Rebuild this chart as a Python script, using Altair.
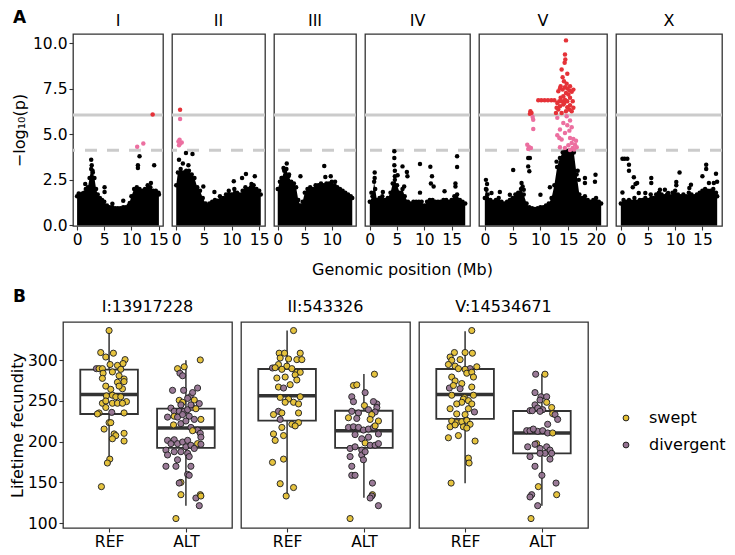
import altair as alt
import pandas as pd

FONT = "DejaVu Sans"

CHROMS = ["I", "II", "III", "IV", "V", "X"]
CHROM_LEN_MB = [15.07, 15.28, 13.78, 17.49, 20.92, 17.72]
BONFERRONI = 6.06
EIGEN = 4.12
Y_TICKS_A = [0, 2.5, 5, 7.5, 10]
X_TITLE_A = "Genomic position (Mb)"

ENV_I = [(0.0,1.6),(0.3,1.75),(0.7,1.7),(1.0,1.75),(1.3,1.8),(1.6,2.0),(2.0,2.1),(2.3,2.6),(2.6,3.1),(2.9,2.9),(3.2,2.6),(3.5,2.0),(3.8,1.7),(4.2,1.5),(4.6,1.4),(5.0,1.3),(5.5,1.1),(6.0,1.0),(6.5,1.0),(7.0,0.95),(7.5,0.95),(8.0,0.95),(8.5,1.0),(9.0,1.0),(9.5,1.1),(10.0,1.6),(10.5,2.0),(11.0,2.1),(11.5,2.0),(12.0,1.9),(12.5,2.0),(13.0,2.2),(13.5,2.1),(14.0,1.9),(14.5,1.9),(15.0,1.8),(15.07,1.7)]
ENV_II = [(0.0,2.2),(0.3,2.9),(0.8,3.1),(1.3,2.9),(1.8,3.0),(2.3,3.0),(2.8,2.8),(3.3,2.6),(3.8,2.1),(4.3,1.9),(4.8,1.5),(5.3,1.2),(6.0,1.2),(6.5,1.3),(7.0,1.4),(7.5,1.35),(8.0,1.4),(8.5,1.5),(9.0,1.7),(9.5,1.9),(10.0,1.7),(10.5,2.0),(11.0,1.8),(11.5,1.7),(12.0,1.9),(12.5,2.1),(13.0,2.0),(13.5,2.1),(14.0,2.2),(14.5,2.0),(15.0,1.9),(15.28,1.7)]
ENV_III = [(0.0,2.0),(0.4,2.4),(0.8,2.6),(1.2,3.0),(1.6,3.1),(2.0,2.7),(2.5,2.4),(3.0,2.3),(3.4,2.1),(3.8,1.4),(4.2,1.1),(4.6,1.3),(5.0,1.8),(5.5,2.0),(6.0,2.1),(6.5,2.0),(7.0,2.2),(7.5,2.2),(8.0,2.3),(8.5,2.2),(9.0,2.3),(9.5,2.3),(10.0,2.4),(10.5,2.2),(11.0,2.1),(11.5,2.0),(12.0,1.9),(12.5,1.8),(13.0,1.7),(13.5,1.6),(13.78,1.5)]
ENV_IV = [(0.0,1.3),(0.5,1.6),(0.8,2.4),(1.0,2.0),(1.3,1.4),(1.8,1.5),(2.3,1.6),(2.8,1.4),(3.3,1.5),(3.8,1.8),(4.2,2.3),(4.6,2.5),(5.0,2.2),(5.5,1.8),(6.0,2.0),(6.4,1.6),(7.0,1.3),(7.5,1.2),(8.0,1.3),(8.5,1.3),(9.0,1.3),(9.5,1.3),(10.0,1.1),(10.5,1.3),(11.0,1.4),(11.5,1.4),(12.0,1.3),(12.5,1.3),(13.0,1.3),(13.5,1.4),(14.0,1.4),(14.5,1.3),(15.0,1.4),(15.5,1.6),(16.0,1.7),(16.5,1.4),(17.0,1.3),(17.49,1.2)]
ENV_V = [(0.0,1.5),(0.2,2.0),(0.5,1.7),(1.0,1.4),(1.5,1.3),(2.0,1.4),(2.5,1.5),(3.0,1.3),(3.5,1.2),(4.0,1.3),(4.5,1.4),(5.0,1.5),(5.5,1.7),(6.0,1.8),(6.5,2.0),(7.0,1.7),(7.5,1.2),(8.0,1.0),(8.5,0.95),(9.0,0.9),(9.5,0.95),(10.0,1.0),(10.5,1.0),(11.0,1.1),(11.5,1.2),(12.0,1.5),(12.5,2.2),(13.0,3.2),(13.5,3.7),(14.0,4.0),(14.5,4.1),(15.0,4.1),(15.5,4.1),(16.0,4.0),(16.5,2.8),(17.0,1.7),(17.5,1.5),(18.0,1.6),(18.5,1.4),(19.0,1.3),(19.5,1.4),(20.0,1.5),(20.5,1.3),(20.92,1.2)]
ENV_X = [(0.0,1.2),(0.5,1.4),(1.0,1.3),(1.5,1.4),(2.0,1.3),(2.5,1.5),(3.0,1.3),(3.5,1.4),(4.0,1.4),(4.5,1.5),(5.0,1.4),(5.5,1.7),(6.0,1.5),(6.5,1.7),(7.0,1.8),(7.5,1.7),(8.0,1.6),(8.5,1.7),(9.0,1.6),(9.5,1.8),(10.0,1.9),(10.5,1.7),(11.0,1.6),(11.5,1.7),(12.0,1.6),(12.5,1.8),(13.0,1.7),(13.5,1.6),(14.0,1.7),(14.5,1.8),(15.0,1.9),(15.5,2.0),(16.0,1.9),(16.5,1.9),(17.0,2.0),(17.5,1.8),(17.72,1.6)]

PTS_I = [(1.5,2.27),(2.6,3.6),(2.7,3.3),(2.85,3.0),(5.06,2.09),(5.06,1.83),(6.5,1.19),(8.5,1.36),(9.7,1.23),(11.2,3.15),(11.2,3.3),(11.5,3.79),(13.6,2.33),(14.2,3.3)]
PTS_II = [(0.5,3.6),(1.76,3.97),(2.94,3.92),(1.2,3.4),(2.2,3.3),(4.9,2.14),(6.9,1.83),(7.9,1.6),(10.4,2.42),(11.9,2.6),(12.6,2.82),(13.6,2.27),(14.2,2.7)]
PTS_III = [(1.07,3.15),(1.67,3.4),(0.7,2.6),(2.1,2.8),(4.2,2.7),(8.6,3.26),(8.8,2.66),(9.8,2.7),(10.6,2.4)]
PTS_IV = [(0.9,2.9),(0.9,2.6),(0.3,1.8),(2.4,1.83),(4.5,4.07),(4.5,3.7),(4.5,3.3),(4.6,3.0),(4.6,2.7),(5.1,2.75),(6.0,3.24),(6.8,2.93),(6.9,2.7),(6.3,2.14),(9.2,3.37),(9.2,1.8),(11.1,3.22),(11.4,2.7),(11.2,2.3),(11.7,2.14),(13.7,1.87),(16.0,3.79),(16.0,3.2),(15.7,2.3),(15.7,2.14)]
PTS_V = [(0.2,2.5),(0.4,2.27),(0.3,1.96),(1.2,1.78),(2.7,1.83),(4.5,1.68),(5.1,3.04),(6.6,2.33),(6.8,2.14),(7.0,1.96),(7.8,3.7),(8.1,3.7),(7.8,3.24),(8.0,2.97),(10.0,1.68),(11.7,2.09),(12.9,3.5),(18.0,2.6),(18.0,2.33),(19.9,2.78),(19.8,2.4),(16.7,3.0),(16.9,2.5)]
PTS_X = [(0.3,3.66),(0.7,3.66),(1.2,3.66),(1.5,3.33),(1.5,3.0),(2.4,2.64),(2.7,2.27),(3.0,2.33),(2.2,2.1),(0.3,1.81),(3.3,1.78),(4.5,1.78),(5.6,2.6),(5.6,2.33),(7.2,1.96),(8.1,1.96),(8.7,1.78),(10.2,2.38),(10.2,2.2),(10.8,2.91),(12.9,2.23),(12.6,2.05),(15.0,2.7),(15.7,3.33),(15.7,3.1),(16.2,2.33),(17.5,2.84),(17.7,2.4),(17.1,2.33)]

SIG_I = [(11.07,4.32),(12.2,4.49),(13.92,6.08)]
SIG_II = [(0.7,6.34),(0.7,5.84),(0.4,4.6),(0.5,4.4),(0.7,4.5),(1.0,4.55),(0.6,4.7)]
SIG_III = []
SIG_IV = []
SIG_V = [(14.59,10.15),(14.41,9.38),(14.47,9.10),(14.35,8.92),(13.81,8.55),(14.83,8.32),(13.99,8.13),(14.23,7.91),(14.71,7.77),(15.32,7.64),(13.63,7.64),
         (13.21,7.36),(13.51,7.51),(13.99,7.45),(14.41,7.58),(14.83,7.51),(15.20,7.40),(15.62,7.33),(15.92,7.45),(14.59,7.27),(15.02,7.18),(14.11,7.09),
         (13.63,7.0),(13.39,6.81),(13.81,6.81),(14.41,6.90),(15.32,7.0),(15.80,6.81),(13.03,6.72),(13.51,6.54),(14.11,6.63),(14.83,6.48),(15.32,6.59),
         (15.92,6.45),(13.21,6.36),(14.59,6.26),(15.20,6.36),(15.62,6.26),(13.81,6.17),(14.29,6.72),(14.83,6.81),(12.91,6.45),(12.79,6.17),
         (9.61,6.87),(10.15,6.87),(10.75,6.87),(11.35,6.87),(11.95,6.87),(12.5,6.87),
         (8.2,6.26),(8.4,6.17),(8.1,6.12),(8.6,5.95),(8.7,5.8),
         (8.71,5.29),(7.63,4.43),(7.99,4.29),(7.81,4.19),(8.29,4.25),
         (13.03,5.90),(14.71,5.99),(15.32,5.75),(14.11,5.62),(14.83,5.49),(15.62,5.38),(13.51,5.26),(15.20,5.20),(14.41,5.07),(13.03,4.95),
         (13.39,4.80),(13.81,4.71),(15.32,4.80),(15.92,4.74),(16.40,4.65),(15.62,4.52),(16.22,4.43),(15.02,4.40),(16.52,4.29),(13.51,4.29),
         (15.80,4.25),(14.41,4.25),(16.04,4.16),(15.32,4.14)]
SIG_X = []

ENV = dict(zip(CHROMS, [ENV_I, ENV_II, ENV_III, ENV_IV, ENV_V, ENV_X]))
PTS = dict(zip(CHROMS, [PTS_I, PTS_II, PTS_III, PTS_IV, PTS_V, PTS_X]))
SIG = dict(zip(CHROMS, [SIG_I, SIG_II, SIG_III, SIG_IV, SIG_V, SIG_X]))

MARKERS = ["I:13917228", "II:543326", "V:14534671"]
ALLELES = ["REF", "ALT"]
GROUPS = ["swept", "divergent"]
GROUP_CODE = {"s": "swept", "d": "divergent"}
PANEL_TAGS = ["A", "B"]

Q1 = [[234.0, 192.5], [225.8, 192.5], [228.0, 185.7]]
MEDIAN = [[258.0, 216.7], [256.3, 213.5], [258.0, 210.7]]
Q3 = [[288.5, 240.5], [289.3, 238.0], [289.3, 237.7]]
WHISK_LO = [[172.0, 121.4], [134.0, 131.0], [149.0, 121.4]]
WHISK_HI = [[336.5, 300.0], [336.5, 283.0], [335.7, 283.0]]

M1_REF = [(0,336.5,"s"),(-0.109,309.5,"s"),(0.056,308.7,"s"),(-0.043,304,"s"),(-0.165,289.7,"d"),(-0.13,289.7,"s"),(-0.087,289.7,"s"),(0.013,294.8,"s"),(0.109,293.7,"s"),(0.152,288.9,"s"),(0.208,300.8,"s"),(0.182,296,"s"),(-0.078,284.1,"s"),(-0.087,277.8,"s"),(0.043,285.7,"s"),(0.13,281,"s"),(0.109,273,"s"),(0.195,277,"s"),(0.195,273.8,"s"),(0.174,265,"s"),(-0.043,268.3,"s"),(0.022,264.3,"s"),(0.13,268.3,"s"),(0.043,257.1,"s"),(-0.035,256.3,"s"),(0.087,255.2,"s"),(0.152,255.2,"s"),(0.226,249.2,"s"),(-0.13,235.3,"s"),(-0.087,247.2,"s"),(-0.043,250,"s"),(0.043,247.2,"s"),(0.109,247.2,"s"),(0.174,247.2,"s"),(0.195,235.3,"s"),(0.035,236,"d"),(-0.043,242,"s"),(-0.152,234.1,"s"),(0,223.4,"s"),(0.022,223.4,"s"),(-0.065,215.5,"s"),(0.065,209.5,"s"),(0.087,207.5,"s"),(0.195,210.3,"s"),(0.195,200.8,"s"),(0.043,203.6,"s"),(0.009,178.6,"s"),(-0.022,173.8,"s"),(-0.1,144.8,"s")]
M1_ALT = [(0.187,300.4,"s"),(-0.109,289.7,"s"),(-0.022,292,"s"),(-0.078,284.1,"d"),(-0.043,281,"d"),(-0.174,263.1,"d"),(-0.030,263.1,"d"),(0.152,265.9,"d"),(0.056,255.2,"d"),(0.022,253.2,"d"),(0.087,260.3,"d"),(-0.087,250.8,"s"),(-0.043,248.4,"s"),(-0.065,245.2,"d"),(0.109,251.2,"s"),(-0.195,241.3,"d"),(-0.152,237.3,"d"),(-0.087,237.3,"d"),(-0.022,237.3,"d"),(0.022,239.3,"d"),(0.087,242,"d"),(0.174,246.8,"d"),(0.065,245.2,"d"),(0.13,240.5,"s"),(-0.152,231.3,"s"),(-0.239,230.2,"d"),(-0.109,230.2,"d"),(-0.043,233.3,"d"),(0.043,231.3,"d"),(0.109,227.4,"d"),(0.195,227.4,"s"),(-0.161,220.6,"s"),(-0.065,222.2,"d"),(0,225.4,"d"),(0.065,217.5,"d"),(0.152,214.3,"d"),(0.087,213.5,"s"),(0.187,210.3,"d"),(0.195,205.6,"d"),(0.152,197.6,"s"),(0.195,196.8,"d"),(-0.239,201.6,"d"),(-0.152,202.4,"d"),(-0.195,197.6,"d"),(-0.109,197.6,"d"),(-0.043,199.6,"d"),(0.022,201.6,"d"),(0,193.7,"d"),(0.065,195.6,"d"),(0.109,191.7,"d"),(-0.260,189.7,"d"),(-0.152,187.7,"d"),(-0.065,187.7,"d"),(0.022,185.7,"d"),(0.043,181.7,"d"),(-0.109,177.8,"d"),(-0.239,183.7,"d"),(-0.130,169.8,"d"),(-0.260,169.8,"d"),(0.065,169.8,"d"),(0.022,159.9,"d"),(0.043,158.7,"d"),(-0.065,150,"s"),(-0.087,149.2,"d"),(-0.065,134.9,"s"),(0.13,130.8,"d"),(0.187,134.9,"s"),(0.195,133.3,"s"),(0.174,121.4,"d"),(-0.130,105.6,"s")]
M2_REF = [(0.084,336.5,"s"),(-0.103,308.7,"s"),(-0.033,308.7,"s"),(0.171,308.7,"s"),(-0.09,302.8,"s"),(0.019,301.6,"s"),(0.127,300.8,"s"),(0.192,300.8,"s"),(-0.112,294.8,"s"),(-0.003,292.8,"s"),(-0.19,290.5,"d"),(-0.155,290.9,"s"),(-0.068,288.9,"s"),(0.062,289.7,"s"),(0.127,285.3,"s"),(0.171,285.3,"s"),(-0.133,278.2,"s"),(-0.025,279.4,"s"),(0.105,282.1,"s"),(0.127,275.8,"s"),(-0.112,267.1,"s"),(-0.046,265.9,"d"),(0.040,270,"s"),(-0.09,254.4,"s"),(0.019,252.4,"s"),(0.084,248.4,"s"),(0.149,246.4,"s"),(0.171,255.2,"s"),(-0.025,248.4,"s"),(-0.112,237.3,"d"),(-0.177,233.3,"s"),(-0.068,235.3,"s"),(0.149,235.3,"s"),(-0.09,227.4,"d"),(0.062,221.4,"s"),(0.149,223.4,"s"),(0.105,219.4,"s"),(-0.068,217.5,"s"),(-0.177,209.5,"s"),(-0.046,207.5,"s"),(-0.155,201.6,"s"),(-0.046,178.6,"s"),(-0.19,174.6,"s"),(-0.09,148.4,"s"),(0.084,143.7,"s"),(-0.012,133.3,"s")]
M2_ALT = [(0.137,282.9,"s"),(-0.136,269,"s"),(-0.093,269.8,"s"),(-0.158,255.2,"d"),(0.016,260.3,"d"),(-0.136,249.2,"d"),(0.168,246.4,"d"),(0.124,249.2,"d"),(0.007,244.4,"s"),(-0.158,237.3,"d"),(-0.071,235.3,"d"),(0.059,239.3,"d"),(0.168,242,"d"),(0.146,236.5,"d"),(0.102,233.3,"s"),(-0.093,228.6,"d"),(-0.201,229.4,"s"),(0.081,227.4,"s"),(0.189,225.4,"s"),(-0.201,217.5,"d"),(-0.136,218.3,"d"),(-0.071,217.5,"d"),(-0.006,214.3,"d"),(0.059,215.5,"d"),(0.124,217.5,"d"),(0.146,219.4,"s"),(0.189,209.5,"d"),(-0.115,208.7,"d"),(-0.028,203.6,"d"),(0.059,205.6,"d"),(0.016,198.4,"s"),(0.081,195.6,"d"),(0.146,195.6,"d"),(0.189,197.6,"d"),(-0.18,191.7,"d"),(-0.115,193.7,"d"),(-0.028,189.7,"d"),(-0.028,183.7,"d"),(0.016,187.7,"d"),(-0.18,181.7,"d"),(-0.006,177.8,"d"),(-0.158,169.8,"d"),(-0.158,158.7,"d"),(-0.115,158.7,"d"),(0.111,149.2,"d"),(0.111,134.9,"s"),(0.102,133.3,"d"),(0.081,130.8,"d"),(0.189,121.4,"d"),(-0.18,105.6,"s")]
M3_REF = [(0.087,336.5,"s"),(-0.139,309.5,"s"),(0,309.5,"s"),(0.095,308.7,"s"),(-0.195,304,"s"),(-0.065,300.8,"s"),(-0.174,300,"s"),(-0.217,294.8,"s"),(-0.13,292.8,"s"),(0.152,292,"s"),(0.065,289.7,"d"),(0,288.9,"s"),(-0.087,289.7,"s"),(0.022,284.1,"s"),(0.087,285.3,"s"),(0.109,279.4,"s"),(-0.174,279.4,"s"),(-0.13,274.6,"s"),(-0.043,271.4,"s"),(-0.204,265.9,"d"),(-0.065,265.1,"d"),(0.087,267.1,"s"),(-0.152,269,"s"),(-0.174,257.1,"s"),(-0.009,254.4,"s"),(0.109,257.1,"s"),(-0.022,252.4,"s"),(0.043,250.4,"s"),(-0.043,248.4,"s"),(-0.109,246.4,"s"),(0.087,246.4,"s"),(-0.195,240.5,"s"),(0.043,240.5,"s"),(0.122,236.5,"d"),(-0.109,234.1,"s"),(0,233.3,"s"),(-0.174,225.4,"s"),(-0.109,223.4,"s"),(-0.043,224.6,"s"),(0.022,226.2,"s"),(0.065,221.4,"s"),(-0.195,218.3,"s"),(-0.13,220.6,"s"),(-0.022,218.3,"s"),(0.022,216.7,"s"),(-0.217,204.8,"s"),(-0.087,207.5,"s"),(0.13,200.8,"s"),(0.043,179.8,"s"),(0.052,173.8,"s"),(-0.182,149.2,"s")]
M3_ALT = [(-0.081,282.9,"d"),(0.04,282.9,"s"),(-0.09,260.3,"d"),(-0.012,255.2,"d"),(0.062,255.2,"d"),(-0.025,251.2,"d"),(0.062,248.4,"s"),(-0.09,245.2,"d"),(-0.155,238.1,"d"),(-0.125,238.1,"d"),(-0.055,241.3,"d"),(0.01,239.3,"d"),(0.127,242,"s"),(0.14,234.5,"s"),(0.171,233.3,"d"),(0.205,227.4,"d"),(0.075,221.4,"d"),(-0.025,237.3,"d"),(-0.198,213.5,"d"),(-0.155,213.5,"d"),(-0.055,212.7,"d"),(0.01,213.5,"d"),(-0.112,215.5,"d"),(0.075,210.7,"d"),(0.14,210.7,"s"),(-0.068,197.6,"s"),(-0.185,193.7,"d"),(-0.09,196.8,"d"),(-0.025,191.7,"d"),(0.062,193.7,"d"),(0.105,189.7,"d"),(0.04,185.7,"d"),(0.127,185.7,"d"),(-0.155,181.7,"d"),(-0.025,185.7,"d"),(0.105,178.6,"d"),(-0.09,169.8,"d"),(0,158.7,"d"),(0.184,149.2,"d"),(-0.046,144.8,"s"),(-0.133,134.9,"d"),(-0.155,132.1,"d"),(0.192,134.9,"s"),(-0.055,121.4,"d"),(-0.142,105.6,"s")]
STRAINS = [(M1_REF, M1_ALT), (M2_REF, M2_ALT), (M3_REF, M3_ALT)]
Y_TICKS_B = [100, 150, 200, 250, 300]

BLACK = "#000000"
PINK = "#EC6FA0"
RED = "#E53238"
LINE_GREY = "#CBCBCB"
FRAME = "#333333"
GOLD = "#E5C034"
MAUVE = "#957392"
TOP_W = [90, 93, 82, 105, 128, 106]
TOP_H = 192
BOT_W = 169
BOT_H = 206
GAP = 9
BOX_HALF = 0.375


def label(text, x, y, size=16, weight="normal", baseline="alphabetic", align="center"):
    return alt.Chart(pd.DataFrame({"t": [text]})).mark_text(
        font=FONT, fontSize=size, fontWeight=weight, baseline=baseline, align=align, color="black"
    ).encode(text="t:N", x=alt.value(x), y=alt.value(y))


def manhattan(i):
    name = CHROMS[i]
    L = CHROM_LEN_MB[i]
    env = pd.DataFrame(ENV[name], columns=["pos", "val"])
    pts = pd.DataFrame(PTS[name], columns=["pos", "val"])
    sig = pd.DataFrame(SIG[name], columns=["pos", "val"])
    ticks = [t for t in (0, 5, 10, 15, 20) if t <= L]
    x = alt.X("pos:Q", scale=alt.Scale(domain=[-0.05 * L, 1.05 * L], nice=False, zero=False),
              axis=alt.Axis(values=ticks, format="d", title=None))
    yscale = alt.Scale(domain=[-0.03, 10.5], nice=False, zero=False)
    if i == 0:
        y = alt.Y("val:Q", scale=yscale,
                  axis=alt.Axis(values=Y_TICKS_A, format=".1f", title="\u2212log\u2081\u2080(p)", titlePadding=5))
    else:
        y = alt.Y("val:Q", scale=yscale, axis=None)

    solid = alt.Chart(pd.DataFrame({"val": [BONFERRONI]})).mark_rule(
        color=LINE_GREY, strokeWidth=3).encode(y=y)
    dashed = alt.Chart(pd.DataFrame({"val": [EIGEN]})).mark_rule(
        color=LINE_GREY, strokeWidth=3, strokeDash=[12, 10]).encode(y=y)
    area = alt.Chart(env).mark_area(color=BLACK, clip=True).encode(x=x, y=y, y2=alt.datum(0))
    edge = alt.Chart(env).mark_circle(color=BLACK, size=20, opacity=1, clip=True).encode(x=x, y=y)
    lone = alt.Chart(pts).mark_circle(color=BLACK, size=20, opacity=1, clip=True).encode(x=x, y=y)
    layers = [solid, dashed, area, edge, lone]
    if len(sig):
        layers.append(
            alt.Chart(sig).mark_circle(size=20, opacity=1, clip=True).encode(
                x=x, y=y,
                color=alt.condition(alt.datum.val >= BONFERRONI, alt.value(RED), alt.value(PINK))))
    layers.append(label(name, TOP_W[i] / 2, -8))
    if i == 0:
        layers.append(label(PANEL_TAGS[0], -60, -24, size=17, weight="bold", baseline="top", align="left"))
    if name == "IV":
        # centre of the whole strip of panels, measured from this panel's left edge
        strip_w = sum(TOP_W) + GAP * (len(TOP_W) - 1)
        left_of_iv = sum(TOP_W[:3]) + GAP * 3
        layers.append(label(X_TITLE_A, strip_w / 2 - left_of_iv + 5, TOP_H + 49))
    return alt.layer(*layers).properties(width=TOP_W[i], height=TOP_H)


def boxpanel(k):
    box = pd.DataFrame({
        "allele": ALLELES, "xpos": [1, 2],
        "q1": Q1[k], "med": MEDIAN[k], "q3": Q3[k], "lo": WHISK_LO[k], "hi": WHISK_HI[k]})
    rows = []
    for a_i, lst in enumerate(STRAINS[k]):
        for dx, v, g in lst:
            rows.append({"xpos": a_i + 1 + dx, "val": v, "group": GROUP_CODE[g]})
    pts = pd.DataFrame(rows)

    xscale = alt.Scale(domain=[0.4, 2.6], nice=False, zero=False)
    label_expr = "datum.value == 1 ? '%s' : (datum.value == 2 ? '%s' : '')" % (ALLELES[0], ALLELES[1])
    xaxis = alt.Axis(values=[1, 2], labelExpr=label_expr, title=None)
    yscale = alt.Scale(domain=[94, 347], nice=False, zero=False)
    if k == 0:
        yaxis = alt.Axis(values=Y_TICKS_B, title="Lifetime fecundity", titlePadding=2)
    else:
        yaxis = None

    def X(f):
        return alt.X(f + ":Q", scale=xscale, axis=xaxis)

    def Y(f):
        return alt.Y(f + ":Q", scale=yscale, axis=yaxis)

    whisk = alt.Chart(box).mark_rule(color=FRAME, strokeWidth=1.5).encode(x=X("xpos"), y=Y("lo"), y2="hi:Q")
    rect = alt.Chart(box).transform_calculate(
        x1="datum.xpos - %f" % BOX_HALF, x2="datum.xpos + %f" % BOX_HALF
    ).mark_rect(fill="white", stroke=FRAME, strokeWidth=1.8).encode(
        x=X("x1"), x2="x2:Q", y=Y("q1"), y2="q3:Q")
    med = alt.Chart(box).transform_calculate(
        x1="datum.xpos - %f" % BOX_HALF, x2="datum.xpos + %f" % BOX_HALF
    ).mark_rule(color=FRAME, strokeWidth=3.5).encode(x=X("x1"), x2="x2:Q", y=Y("med"))
    dots = alt.Chart(pts).mark_circle(size=38, stroke="#222222", strokeWidth=1, opacity=0.95).encode(
        x=X("xpos"), y=Y("val"),
        fill=alt.Fill("group:N", scale=alt.Scale(domain=GROUPS, range=[GOLD, MAUVE]), legend=None))
    layers = [whisk, rect, med, dots, label(MARKERS[k], BOT_W / 2, -10)]
    if k == 0:
        layers.append(label(PANEL_TAGS[1], -50, -33, size=17, weight="bold", baseline="top", align="left"))
    return alt.layer(*layers).properties(width=BOT_W, height=BOT_H)


# narrow empty column that offsets panel A relative to panel B
spacer = alt.Chart(pd.DataFrame({"t": [""]})).mark_text().encode(text="t:N").properties(
    width=1, height=TOP_H, view=alt.ViewBackground(strokeWidth=0, stroke="transparent"))

leg_df = pd.DataFrame({"group": GROUPS})
leg_y = alt.Y("group:N", scale=alt.Scale(domain=GROUPS, range=[96, 123], padding=0), axis=None)
legend = alt.layer(
    alt.Chart(leg_df).mark_circle(size=34, stroke="#222222", strokeWidth=1, opacity=1).encode(
        x=alt.value(29), y=leg_y,
        fill=alt.Fill("group:N", scale=alt.Scale(domain=GROUPS, range=[GOLD, MAUVE]), legend=None)),
    alt.Chart(leg_df).mark_text(font=FONT, fontSize=16, align="left", baseline="middle", color="black").encode(
        x=alt.value(52), y=leg_y, text="group:N"),
).properties(width=116, height=BOT_H, view=alt.ViewBackground(strokeWidth=0, stroke="transparent"))

top_row = alt.hconcat(spacer, *[manhattan(i) for i in range(len(CHROMS))], spacing=GAP,
                      bounds="flush").resolve_scale(x="independent", y="independent")

bottom_row = alt.hconcat(*[boxpanel(k) for k in range(len(MARKERS))], legend, spacing=GAP,
                         bounds="flush").resolve_scale(x="independent", y="independent")

chart = alt.concat(top_row, bottom_row, columns=1, spacing=8, align="none").resolve_scale(
    x="independent", y="independent").properties(
    padding=0
).configure_view(
    stroke=FRAME, strokeWidth=1.3
).configure_axis(
    domain=False, grid=False, tickColor=FRAME, tickSize=4, tickWidth=1.1,
    labelColor="black", labelFont=FONT, labelFontSize=15.5, labelPadding=2,
    titleFont=FONT, titleFontSize=16, titleFontWeight="normal", titleColor="black"
)

chart.save("out.html", embed_options={"renderer": "svg", "actions": False})
